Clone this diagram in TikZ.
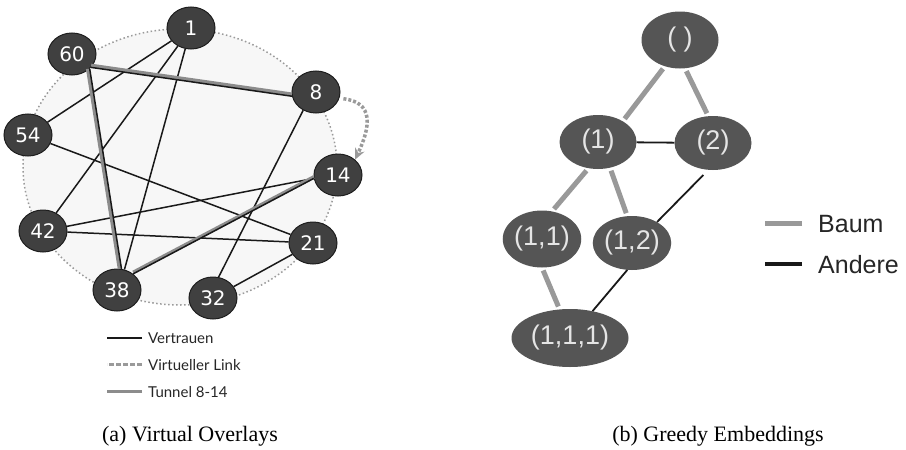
\documentclass[tikz,border=0pt]{standalone}
\usepackage{fontspec}
\usepackage{tikz}
\usetikzlibrary{shapes.geometric,arrows.meta}

\setmainfont{Liberation Serif}
\newfontfamily\peerfont{DejaVu Sans}
\newfontfamily\legendfont{Lato}
\newfontfamily\embedfont{Liberation Sans}

\definecolor{peerfill}{HTML}{404040}
\definecolor{peerline}{HTML}{1E1E1E}
\definecolor{ringfill}{HTML}{F7F7F7}
\definecolor{ringline}{HTML}{9A9A9A}
\definecolor{tunnelgray}{HTML}{8C8C8C}
\definecolor{embedfill}{HTML}{555555}
\definecolor{treegray}{HTML}{999999}

\begin{document}
\begin{tikzpicture}[x=1pt, y=1pt,
    peer/.style={ellipse, fill=peerfill, draw=peerline, line width=1pt,
      minimum width=48pt, minimum height=42pt, inner sep=0pt, text=white,
      font=\peerfont\fontsize{20}{20}\selectfont},
    trust/.style={line width=1.5pt, black!90},
    tunnel/.style={line width=3.5pt, tunnelgray},
    virtual/.style={line width=3.5pt, ringline, dash pattern=on 3pt off 2pt},
    legtext/.style={inner sep=0pt, text=black!85,
      font=\legendfont\fontsize{15}{15}\selectfont},
    embed/.style={ellipse, fill=embedfill, minimum width=77pt,
      minimum height=54pt, inner sep=0pt, text=black!10,
      font=\embedfont\fontsize{27}{27}\selectfont},
    tree/.style={line width=5pt, treegray, shorten <=3pt, shorten >=3pt},
    other/.style={line width=1.8pt, black!90},
    embtext/.style={inner sep=0pt, text=black!85,
      font=\embedfont\fontsize{25}{25}\selectfont},
    caption/.style={inner sep=0pt, anchor=base,
      font=\fontsize{22}{22}\selectfont}]

  \useasboundingbox (0,0) rectangle (906,-450);

  % ring of the overlay
  \draw[ringline, fill=ringfill, line width=1.5pt, dash pattern=on 1.5pt off 2.5pt]
    (180,-167) ellipse [x radius=157, y radius=138];

  % peers
  \node[peer] (n1)  at (191,-28)  {1};
  \node[peer] (n60) at (72,-54)   {60};
  \node[peer] (n8)  at (316,-92)  {8};
  \node[peer] (n54) at (28,-135)  {54};
  \node[peer] (n14) at (338,-175) {14};
  \node[peer] (n42) at (43,-231)  {42};
  \node[peer] (n21) at (313,-243) {21};
  \node[peer] (n38) at (117,-290) {38};
  \node[peer] (n32) at (213,-298) {32};

  % trust links
  \draw[trust] (n1) -- (n54);
  \draw[trust] (n1) -- (n42);
  \draw[trust] (n1) -- (n38.70);
  \draw[trust] (n54) -- (n21);
  \draw[trust] (n42) -- (n14.188);
  \draw[trust] (n42) -- (n21);
  \draw[trust] (n8.-125) -- (n32.75);
  \draw[trust] (n21) -- (n32);

  % tunnel 8-60-38-14 on top of its trust links
  \draw[tunnel, transform canvas={yshift=2pt}] (n60.-35) -- (n8.190);
  \draw[trust] (n60.-35) -- (n8.190);
  \draw[tunnel, transform canvas={xshift=-2pt}] (n60.-40) -- (n38.78);
  \draw[trust] (n60.-40) -- (n38.78);
  \draw[tunnel, transform canvas={yshift=1.5pt}] (n38.45) -- (n14.188);
  \draw[trust] (n38.45) -- (n14.188);

  % virtual link
  \draw[virtual, shorten <=4pt, -{Stealth[length=11pt, width=10pt]}]
    (n8.-15) .. controls +(34,-4) and +(16,34) .. (n14.42);

  % legend (a)
  \node[legtext, anchor=base west] (lv) at (148,-343) {Vertrauen};
  \node[legtext, anchor=base west] (lw) at (148,-370) {Virtueller Link};
  \node[legtext, anchor=base west] (lt) at (148,-397) {Tunnel 8-14};
  \draw[trust, line width=2pt] (lv.west) ++(-6,0) -- ++(-35,0);
  \draw[virtual, line width=3pt, dash pattern=on 5pt off 2pt] (lw.west) ++(-6,0) -- ++(-35,0);
  \draw[tunnel] (lt.west) ++(-6,0) -- ++(-35,0);

  % embedding tree
  \node[embed, minimum height=57pt] (r0)  at (680,-40)  {( )};
  \node[embed] (r1)  at (598,-142) {(1)};
  \node[embed] (r2)  at (713,-143) {(2)};
  \node[embed, minimum height=57pt] (r11) at (542,-239) {(1,1)};
  \node[embed] (r12) at (632,-243) {(1,2)};
  \node[embed, minimum width=117pt, minimum height=58pt] (r111) at (570,-338) {(1,1,1)};

  % tree edges
  \draw[tree] (r0.-120) -- (r1.40);
  \draw[tree] (r0.-80) -- (r2.100);
  \draw[tree] (r1.-110) -- (r11.70);
  \draw[tree] (r1.-65) -- (r12.100);
  \draw[tree] (r11.-90) -- (r111.110);

  % other edges
  \draw[other] (r1) -- (r2);
  \draw[other, shorten <=7pt] (r2.-100) -- (r12.40);
  \draw[other] (r12.-100) -- (r111.50);

  % legend (b)
  \node[embtext, anchor=base west] (lb) at (818,-232) {Baum};
  \node[embtext, anchor=base west] (la) at (818,-273) {Andere};
  \draw[treegray, line width=5pt] (lb.west) ++(-16,0) -- ++(-37,0);
  \draw[black!90, line width=4pt] (la.west) ++(-16,0) -- ++(-37,0);

  % captions
  \node[caption] (capa) at (190,-441) {(a) Virtual Overlays};
  \node[caption] (capb) at (718,-441) {(b) Greedy Embeddings};
\end{tikzpicture}
\end{document}
